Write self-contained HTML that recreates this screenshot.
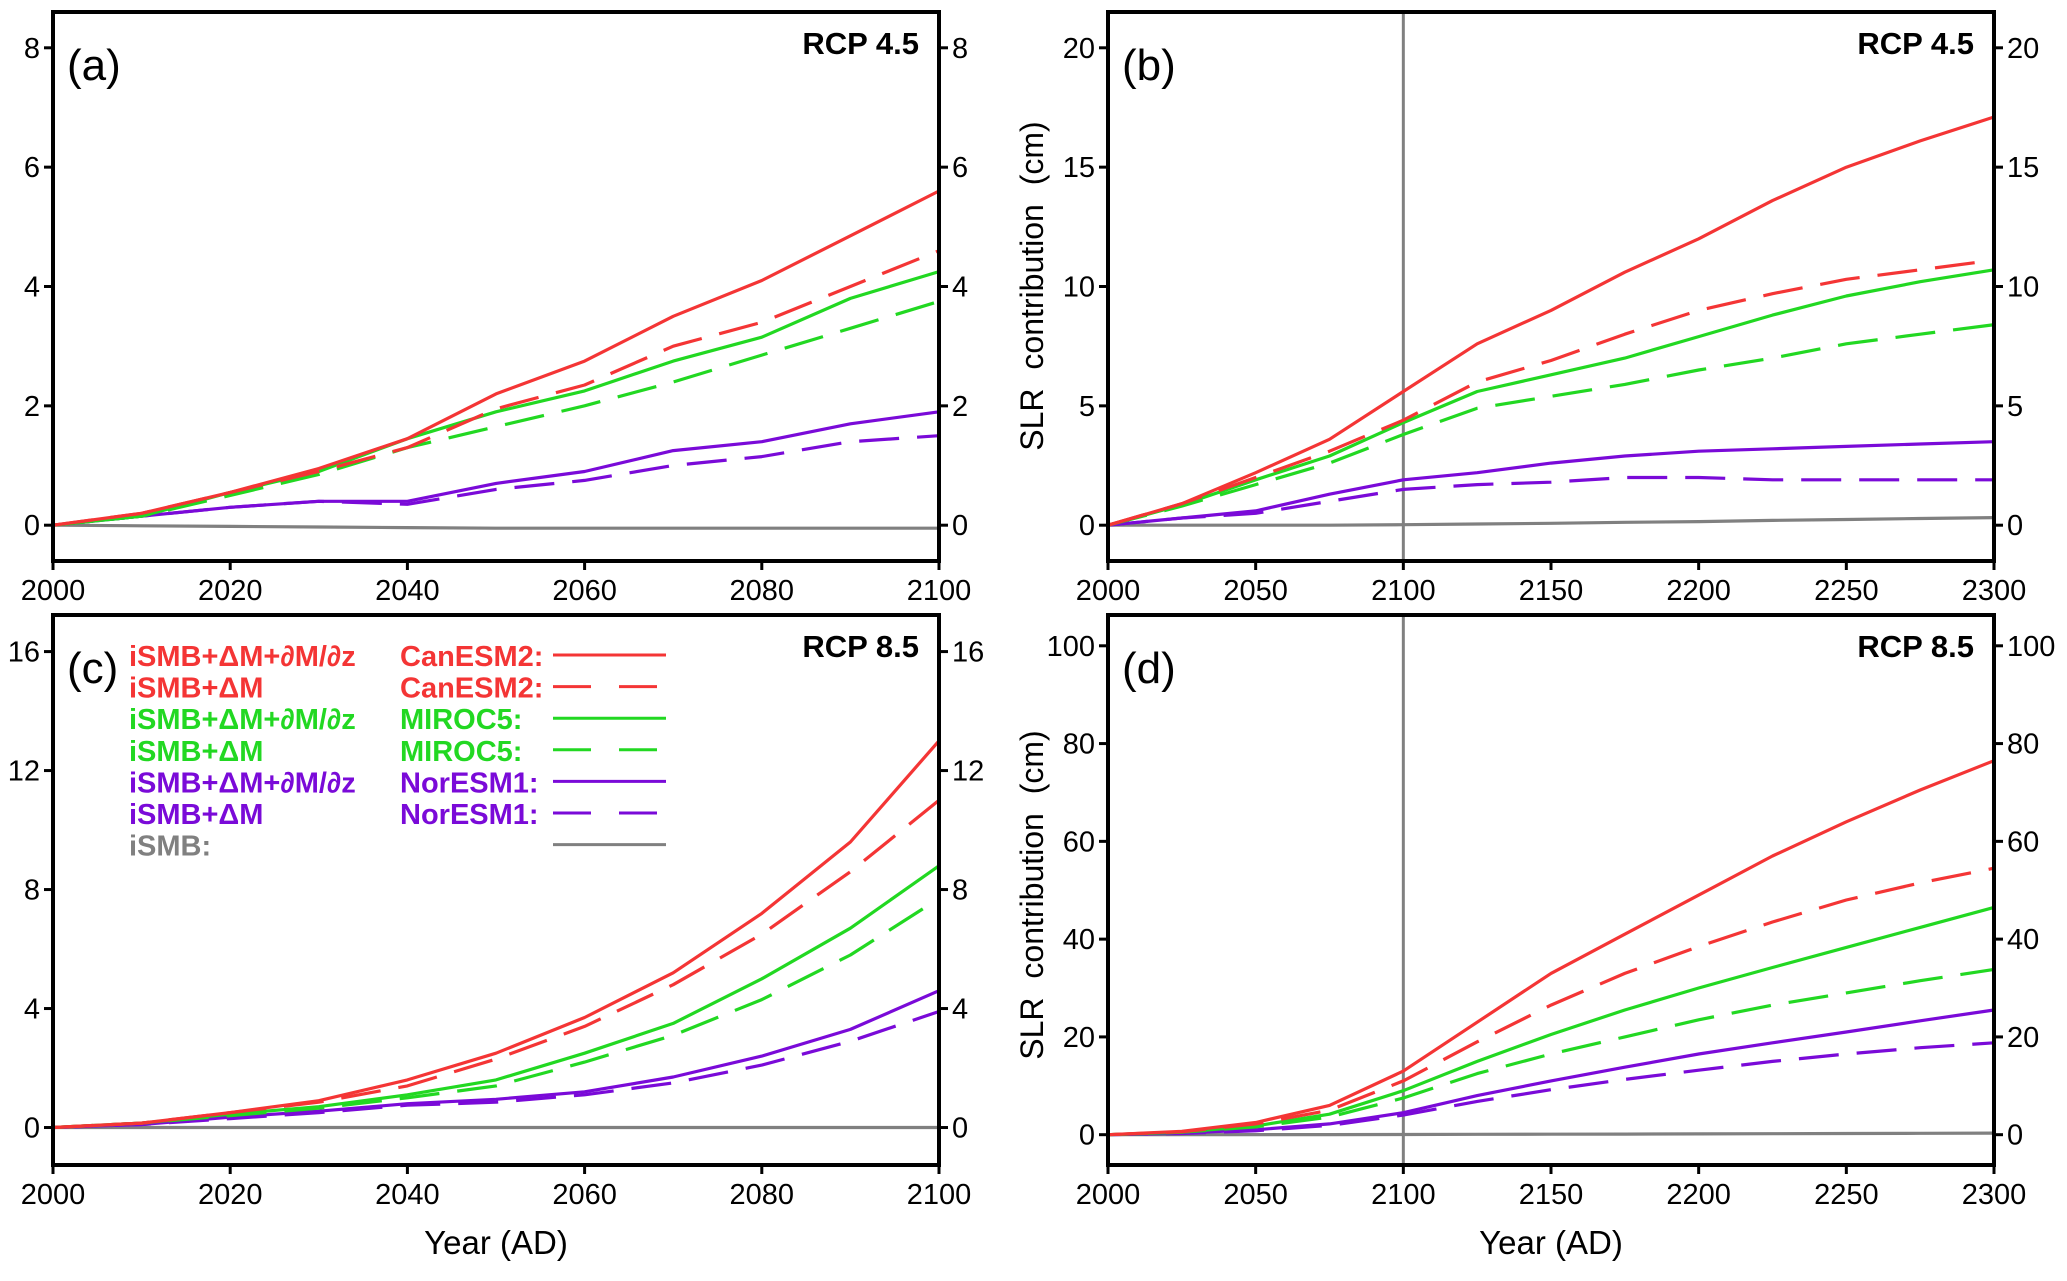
<!DOCTYPE html>
<html><head><meta charset="utf-8"><style>
html,body{margin:0;padding:0;background:#fff}
svg text{font-family:"Liberation Sans",sans-serif}
</style></head><body>
<svg id="fig" width="2067" height="1276" viewBox="0 0 2067 1276" xmlns="http://www.w3.org/2000/svg"></svg>
<script>
const yearsA = [2000,2010,2020,2030,2040,2050,2060,2070,2080,2090,2100];
const yearsB = [2000,2025,2050,2075,2100,2125,2150,2175,2200,2225,2250,2275,2300];
// Panel a (RCP4.5, 2000-2100)
const aCanSolid = [0,0.2,0.55,0.95,1.45,2.2,2.75,3.5,4.1,4.85,5.6];
const aCanDash  = [0,0.2,0.55,0.9,1.3,1.95,2.35,3.0,3.4,4.0,4.6];
const aMirSolid = [0,0.15,0.55,0.9,1.45,1.9,2.25,2.75,3.15,3.8,4.25];
const aMirDash  = [0,0.15,0.5,0.85,1.3,1.65,2.0,2.4,2.85,3.3,3.75];
const aNorSolid = [0,0.15,0.3,0.4,0.4,0.7,0.9,1.25,1.4,1.7,1.9];
const aNorDash  = [0,0.15,0.3,0.4,0.35,0.6,0.75,1.0,1.15,1.4,1.5];
const aISMB     = [0,-0.01,-0.02,-0.03,-0.04,-0.05,-0.05,-0.05,-0.05,-0.05,-0.05];
// Panel b (RCP4.5, 2000-2300)
const bCanSolid = [0,0.9,2.2,3.6,5.6,7.6,9.0,10.6,12.0,13.6,15.0,16.1,17.1];
const bCanDash  = [0,0.9,2.0,3.1,4.4,6.0,6.9,8.0,9.0,9.7,10.3,10.7,11.1];
const bMirSolid = [0,0.85,1.9,2.9,4.3,5.6,6.3,7.0,7.9,8.8,9.6,10.2,10.7];
const bMirDash  = [0,0.8,1.7,2.6,3.8,4.9,5.4,5.9,6.5,7.0,7.6,8.0,8.4];
const bNorSolid = [0,0.3,0.6,1.3,1.9,2.2,2.6,2.9,3.1,3.2,3.3,3.4,3.5];
const bNorDash  = [0,0.3,0.5,1.0,1.5,1.7,1.8,2.0,2.0,1.9,1.9,1.9,1.9];
const bISMB     = [0,0,0,0,0.02,0.05,0.08,0.12,0.15,0.2,0.24,0.28,0.32];
// Panel c (RCP8.5, 2000-2100)
const cCanSolid = [0,0.15,0.5,0.9,1.6,2.5,3.7,5.2,7.2,9.6,13.0];
const cCanDash  = [0,0.15,0.5,0.85,1.4,2.3,3.4,4.8,6.5,8.6,11.0];
const cMirSolid = [0,0.15,0.45,0.7,1.1,1.6,2.5,3.5,5.0,6.7,8.8];
const cMirDash  = [0,0.15,0.4,0.65,1.0,1.4,2.2,3.1,4.3,5.8,7.7];
const cNorSolid = [0,0.1,0.35,0.55,0.8,0.95,1.2,1.7,2.4,3.3,4.6];
const cNorDash  = [0,0.1,0.3,0.5,0.75,0.85,1.1,1.5,2.1,2.9,3.9];
const cISMB     = [0,0,0,0,0,0,0,0,0,0,0];
// Panel d (RCP8.5, 2000-2300)
const dCanSolid = [0,0.7,2.5,6,13,23,33,41,49,57,64,70.5,76.5];
const dCanDash  = [0,0.6,2.2,5,11,19,26.5,33,38.5,43.5,48,51.5,54.5];
const dMirSolid = [0,0.5,1.8,4.2,9,15,20.5,25.5,30,34.2,38.3,42.4,46.5];
const dMirDash  = [0,0.5,1.6,3.6,7.5,12.5,16.5,20,23.5,26.5,29,31.5,33.8];
const dNorSolid = [0,0.3,1.0,2.2,4.5,8,11,13.8,16.5,18.8,21,23.3,25.5];
const dNorDash  = [0,0.25,0.8,1.9,4,6.8,9.2,11.3,13.2,15,16.5,17.8,18.8];
const dISMB     = [0,0,0.01,0.02,0.04,0.07,0.1,0.13,0.16,0.2,0.24,0.28,0.32];

const xTicksA = [2000,2020,2040,2060,2080,2100];
const xTicksB = [2000,2050,2100,2150,2200,2250,2300];
const yTicksA = [0,2,4,6,8];
const yTicksB = [0,5,10,15,20];
const yTicksC = [0,4,8,12,16];
const yTicksD = [0,20,40,60,80,100];

const RED="#f43535", GRN="#22d822", PUR="#7a0ad8", GRY="#808080";
const svg=document.getElementById('fig');
const NS="http://www.w3.org/2000/svg";
function mk(tag,attrs,parent){const e=document.createElementNS(NS,tag);for(const k in attrs)e.setAttribute(k,attrs[k]);(parent||svg).appendChild(e);return e;}

function panel(o){
  const g=mk('g',{});
  
  
  const sx=v=>o.x0+(v-o.xmin)/(o.xmax-o.xmin)*(o.x1-o.x0);
  const sy=v=>o.y0+(o.ymax-v)/(o.ymax-o.ymin)*(o.y1-o.y0);
  if(o.vline){const l=mk('line',{x1:sx(2100),x2:sx(2100),y1:o.y0,y2:o.y1,stroke:GRY,'stroke-width':3},g);
    }
  o.series.forEach(s=>{
    const pts=s.vals.map((v,i)=>sx(o.xs[i]).toFixed(1)+','+sy(v).toFixed(1)).join(' ');
    const p=mk('polyline',{points:pts,fill:'none',stroke:s.c,'stroke-width':3.2,'stroke-linejoin':'round'},g);
    if(s.d)p.setAttribute('stroke-dasharray','40 18');
    
    
  });
  const fr=mk('rect',{x:o.x0,y:o.y0,width:o.x1-o.x0,height:o.y1-o.y0,fill:'none',stroke:'#000','stroke-width':4},g);
  
  o.xt.forEach(t=>{
    mk('line',{x1:sx(t),x2:sx(t),y1:o.y1,y2:o.y1+9,stroke:'#000','stroke-width':3},g);
    const tx=mk('text',{x:sx(t),y:o.y1+39,'font-size':29,'text-anchor':'middle'},g);tx.textContent=t;
    
  });
  o.yt.forEach(t=>{
    mk('line',{x1:o.x0-9,x2:o.x0,y1:sy(t),y2:sy(t),stroke:'#000','stroke-width':3},g);
    mk('line',{x1:o.x1,x2:o.x1+9,y1:sy(t),y2:sy(t),stroke:'#000','stroke-width':3},g);
    const a=mk('text',{x:o.x0-13,y:sy(t)+10,'font-size':29,'text-anchor':'end'},g);a.textContent=t;
    
    const b=mk('text',{x:o.x1+13,y:sy(t)+10,'font-size':29,'text-anchor':'start'},g);b.textContent=t;
    
  });
  const lb=mk('text',{x:o.x0+14,y:o.y0+68,'font-size':44},g);lb.textContent='('+o.id+')';
  
  const sc=mk('text',{x:o.x1-20,y:o.y0+42,'font-size':31,'font-weight':'bold','text-anchor':'end'},g);sc.textContent=o.scen;
  
}
function ser(cs,cd,ms,md,ns,nd,is){return [
 {vals:is,c:GRY,n:'ismb-line'},
 {vals:nd,c:PUR,d:1,n:'noresm1-dashed'},{vals:ns,c:PUR,n:'noresm1-solid'},
 {vals:md,c:GRN,d:1,n:'miroc5-dashed'},{vals:ms,c:GRN,n:'miroc5-solid'},
 {vals:cd,c:RED,d:1,n:'canesm2-dashed'},{vals:cs,c:RED,n:'canesm2-solid'}];}

panel({id:'a',scen:'RCP  4.5',x0:53,x1:939,y0:12,y1:561,xmin:2000,xmax:2100,ymin:-0.6,ymax:8.6,xs:yearsA,xt:xTicksA,yt:yTicksA,
  series:ser(aCanSolid,aCanDash,aMirSolid,aMirDash,aNorSolid,aNorDash,aISMB)});
panel({id:'b',scen:'RCP  4.5',x0:1108,x1:1994,y0:12,y1:561,xmin:2000,xmax:2300,ymin:-1.5,ymax:21.5,xs:yearsB,xt:xTicksB,yt:yTicksB,vline:1,
  series:ser(bCanSolid,bCanDash,bMirSolid,bMirDash,bNorSolid,bNorDash,bISMB)});
panel({id:'c',scen:'RCP  8.5',x0:53,x1:939,y0:615,y1:1165,xmin:2000,xmax:2100,ymin:-1.26,ymax:17.23,xs:yearsA,xt:xTicksA,yt:yTicksC,
  series:ser(cCanSolid,cCanDash,cMirSolid,cMirDash,cNorSolid,cNorDash,cISMB)});
panel({id:'d',scen:'RCP  8.5',x0:1108,x1:1994,y0:615,y1:1165,xmin:2000,xmax:2300,ymin:-6.2,ymax:106.3,xs:yearsB,xt:xTicksB,yt:yTicksD,vline:1,
  series:ser(dCanSolid,dCanDash,dMirSolid,dMirDash,dNorSolid,dNorDash,dISMB)});

// axis titles
[[1043,286],[1043,895]].forEach(p=>{const t=mk('text',{x:p[0],y:p[1],'font-size':32,'text-anchor':'middle','word-spacing':'10',transform:`rotate(-90 ${p[0]} ${p[1]})`});
 t.textContent='SLR contribution (cm)';});
[[496,1254],[1551,1254]].forEach(p=>{const t=mk('text',{x:p[0],y:p[1],'font-size':33,'text-anchor':'middle'});
 t.textContent='Year (AD)';});

// legend
const legLeft=['iSMB+ΔM+∂M/∂z','iSMB+ΔM','iSMB+ΔM+∂M/∂z','iSMB+ΔM','iSMB+ΔM+∂M/∂z','iSMB+ΔM','iSMB:'];
const legMid=['CanESM2:','CanESM2:','MIROC5:','MIROC5:','NorESM1:','NorESM1:',''];
const legCol=[RED,RED,GRN,GRN,PUR,PUR,GRY];
const legDash=[0,1,0,1,0,1,0];
const lg=mk('g',{});


legLeft.forEach((s,i)=>{
  const y=655+i*31.6;
  const a=mk('text',{x:129,y:y+11,'font-size':29,'font-weight':'bold',fill:legCol[i]},lg);a.textContent=s;
  
  const b=mk('text',{x:400,y:y+11,'font-size':29,'font-weight':'bold',fill:legCol[i]},lg);b.textContent=legMid[i];
  
  const l=mk('line',{x1:553,x2:666,y1:y,y2:y,stroke:legCol[i],'stroke-width':3},lg);
  if(legDash[i])l.setAttribute('stroke-dasharray','38 28');
  
});
</script>
</body></html>
